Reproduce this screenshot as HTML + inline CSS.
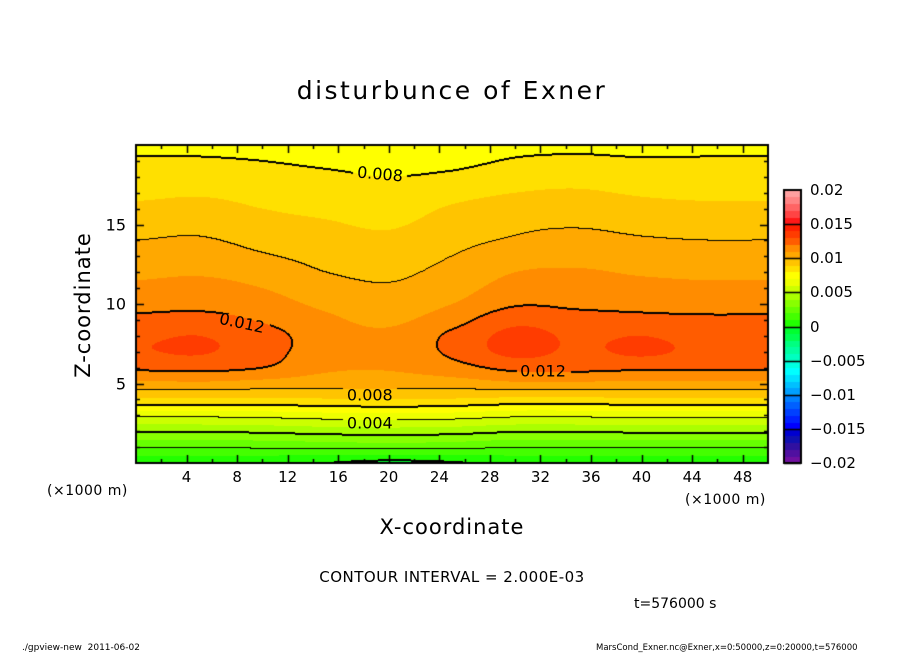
<!DOCTYPE html>
<html><head><meta charset="utf-8"><style>
body{margin:0;background:#fff;}
#wrap{position:relative;width:904px;height:654px;overflow:hidden;background:#fff;font-family:"DejaVu Sans","Liberation Sans",sans-serif;color:#000;}
.t{position:absolute;white-space:nowrap;}
canvas{position:absolute;}
</style></head><body>
<div id="wrap">
<div class="t" style="left:0;width:904px;text-align:center;top:76px;font-size:25px;letter-spacing:2.5px;">disturbunce of Exner</div>
<canvas id="cv" width="904" height="654" style="left:0;top:0"></canvas>
<div class="t" style="left:83px;top:305px;font-size:21px;letter-spacing:1px;transform:translate(-50%,-50%) rotate(-90deg);">Z-coordinate</div>
<div class="t" style="left:0;width:904px;text-align:center;top:515px;font-size:21px;letter-spacing:1px;">X-coordinate</div>
<div class="t" style="left:47px;top:483px;font-size:14px;letter-spacing:0.5px;">(×1000 m)</div>
<div class="t" style="left:685px;top:492px;font-size:14px;letter-spacing:0.5px;">(×1000 m)</div>
<div class="t" style="left:0;width:904px;text-align:center;top:568px;font-size:15px;letter-spacing:0.5px;">CONTOUR INTERVAL = 2.000E-03</div>
<div class="t" style="left:634px;top:596px;font-size:14px;">t=576000 s</div>
<div class="t" style="left:22px;top:643px;font-size:9px;">./gpview-new &nbsp;2011-06-02</div>
<div class="t" style="left:596px;top:643px;font-size:8.5px;">MarsCond_Exner.nc@Exner,x=0:50000,z=0:20000,t=576000</div>
</div>
<script>
const xCoords=[0,5,10,15,20,25,30,35,40,45,50];
const zCoords=[0,1,2,3,4,5,6,7,8,9,10,11,12,13,14,15,16,17,18,19,20];
const row0=[.0004,.0003,.0002,.0000,-.0003,-.0001,.0003,.0004,.0004,.0004,.0004];
const row1=[.0021,.0021,.0022,.0023,.0024,.0023,.0021,.0021,.0021,.0021,.0021];
const row2=[.0041,.0041,.0042,.0044,.0045,.0044,.0041,.0041,.0042,.0042,.0042];
const row3=[.0063,.0063,.0064,.0066,.0067,.0066,.0063,.0063,.0064,.0064,.0064];
const row4=[.0088,.0088,.0088,.0089,.0090,.0089,.0087,.0087,.0088,.0088,.0088];
const row5=[.0107,.0108,.0106,.0104,.0104,.0105,.0108,.0108,.0107,.0107,.0107];
const row6=[.0122,.0123,.0120,.0112,.0111,.0116,.0123,.0123,.0122,.0122,.0122];
const row7=[.0129,.0131,.0124,.0115,.0113,.0122,.0133,.0128,.0132,.0127,.0126];
const row8=[.0128,.0130,.0124,.0115,.0112,.0122,.0133,.0128,.0130,.0126,.0125];
const row9=[.0123,.0124,.0119,.0112,.0108,.0116,.0127,.0124,.0123,.0122,.0122];
const row10=[.0116,.0117,.0114,.0108,.0104,.0110,.0119,.0118,.0117,.0116,.0116];
const row11=[.0112,.0113,.0110,.0104,.0101,.0106,.0114,.0114,.0113,.0112,.0112];
const row12=[.0108,.0109,.0106,.0100,.0098,.0103,.0110,.0111,.0109,.0108,.0108];
const row13=[.0104,.0105,.0101,.0097,.0095,.0100,.0106,.0107,.0105,.0104,.0104];
const row14=[.0100,.0101,.0097,.0094,.0092,.0097,.0101,.0103,.0101,.0100,.0100];
const row15=[.0096,.0097,.0093,.0091,.0089,.0094,.0098,.0099,.0097,.0096,.0096];
const row16=[.0092,.0093,.0090,.0088,.0086,.0091,.0094,.0095,.0093,.0092,.0092];
const row17=[.0088,.0089,.0087,.0085,.0083,.0087,.0090,.0091,.0089,.0088,.0088];
const row18=[.0085,.0085,.0084,.0082,.0080,.0082,.0086,.0087,.0085,.0085,.0085];
const row19=[.0081,.0081,.0080,.0078,.0076,.0077,.0081,.0082,.0081,.0081,.0081];
const row20=[.0078,.0078,.0077,.0075,.0072,.0073,.0077,.0078,.0077,.0078,.0078];
const field=[row0,row1,row2,row3,row4,row5,row6,row7,row8,row9,row10,row11,row12,row13,row14,row15,row16,row17,row18,row19,row20];
const xTicks=[4,8,12,16,20,24,28,32,36,40,44,48];
const zTicks=[5,10,15];
const cbTicks=[0.02,0.015,0.01,0.005,0,-0.005,-0.01,-0.015,-0.02];
const cbTickText=["0.02","0.015","0.01","0.005","0","\u22120.005","\u22120.01","\u22120.015","\u22120.02"];
const contourLabels=[["0.008",19.3,18.2,5],["0.012",8.4,8.8,12],["0.012",32.2,5.8,0],["0.008",18.5,4.3,0],["0.004",18.5,2.5,0]];
const palPos=["#22ff00","#44ff00","#66ff00","#88ff00","#aaff00","#ccff00","#eeff00","#ffff00","#ffe000","#ffc400","#ffa800","#ff8c00","#ff5c00","#ff3c00","#ff2000","#ff1818","#ff4444","#ff6464","#ff8484","#ffa0a0"];
const palNeg=["#00ff30","#00ff50","#00ff80","#00ffa0","#00ffc0","#00ffe0","#00ffff","#00e0ff","#00c0ff","#00a0ff","#0080ff","#0060ff","#0040ff","#0020ff","#0000ff","#0000d0","#1010b0","#3010a0","#5010a0","#7010a0"];

const PX0=136,PX1=768,PY0=145,PY1=463;
const sx=x=>PX0+(x-0)/(50-0)*(PX1-PX0);
const sz=z=>PY1-(z-0)/(20-0)*(PY1-PY0);
const CB={x0:784,x1:801,y0:190,y1:463};
const cy=v=>CB.y1-(v+0.02)/0.04*(CB.y1-CB.y0);
function colorOf(v){let b=Math.floor(v/0.001+1e-9);if(b>=0)return palPos[Math.min(b,19)];return palNeg[Math.min(-b-1,19)];}
function cub(p0,p1,p2,p3,t){return p1+0.5*t*(p2-p0+t*(2*p0-5*p1+4*p2-p3+t*(3*(p1-p2)+p3-p0)));}
function gv(i,j){i=Math.max(0,Math.min(zCoords.length-1,i));j=Math.max(0,Math.min(xCoords.length-1,j));return field[i][j];}
function sample(x,z){
  let fx=(x-xCoords[0])/(xCoords[1]-xCoords[0]),fz=(z-zCoords[0])/(zCoords[1]-zCoords[0]);
  let j=Math.min(Math.floor(fx),xCoords.length-2),i=Math.min(Math.floor(fz),zCoords.length-2);
  let tx=fx-j,tz=fz-i,r=[];
  for(let k=-1;k<3;k++)r.push(cub(gv(i+k,j-1),gv(i+k,j),gv(i+k,j+1),gv(i+k,j+2),tx));
  return cub(r[0],r[1],r[2],r[3],tz);
}
function hex(c){return [parseInt(c.slice(1,3),16),parseInt(c.slice(3,5),16),parseInt(c.slice(5,7),16)];}
const cv=document.getElementById('cv'),ctx=cv.getContext('2d');
const W=PX1-PX0,H=PY1-PY0;
const img=ctx.createImageData(W,H);
const vals=new Float32Array(W*H);
for(let py=0;py<H;py++)for(let px=0;px<W;px++){
  const x=(px+0.5)/W*50,z=(H-py-0.5)/H*20;vals[py*W+px]=sample(x,z);}
const boxes=contourLabels.map(l=>[sx(l[1])-PX0-27,sz(l[2])-PY0-10,54,20]);
function inBox(px,py){return boxes.some(b=>px>b[0]&&px<b[0]+b[2]&&py>b[1]&&py<b[1]+b[3]);}
for(let py=0;py<H;py++)for(let px=0;px<W;px++){
  const v=vals[py*W+px];let c=hex(colorOf(v));
  const lv=Math.floor(v/0.002);let line=false;
  const nb=[[1,0],[0,1],[-1,0],[0,-1]];
  for(const [dx,dy] of nb){const qx=px+dx,qy=py+dy;if(qx<0||qy<0||qx>=W||qy>=H)continue;
    const v2=vals[qy*W+qx];const l2=Math.floor(v2/0.002);
    if(l2!==lv){const m=Math.max(lv,l2);if(dx>0||dy>0||m%2===0){line=true;}}}
  if(line&&!inBox(px,py))c=[0,0,0];
  const k=(py*W+px)*4;img.data[k]=c[0];img.data[k+1]=c[1];img.data[k+2]=c[2];img.data[k+3]=255;}
ctx.putImageData(img,PX0,PY0);
ctx.strokeStyle='#000';ctx.lineWidth=2;ctx.strokeRect(PX0,PY0,W,H);
ctx.lineWidth=1.5;
for(let x=2;x<50;x+=2){const L=(x%4===0)?8:4;const X=Math.round(sx(x))+0.5;
  ctx.beginPath();ctx.moveTo(X,PY1);ctx.lineTo(X,PY1-L);ctx.moveTo(X,PY0);ctx.lineTo(X,PY0+L);ctx.stroke();}
for(let z=1;z<20;z++){const L=(z%5===0)?8:4;const Y=Math.round(sz(z))+0.5;
  ctx.beginPath();ctx.moveTo(PX0,Y);ctx.lineTo(PX0+L,Y);ctx.moveTo(PX1,Y);ctx.lineTo(PX1-L,Y);ctx.stroke();}
for(let b=-20;b<20;b++){const v0=b*0.001;ctx.fillStyle=colorOf(v0+0.0005);
  const ya=cy(v0+0.001),yb=cy(v0);ctx.fillRect(CB.x0,Math.floor(ya),CB.x1-CB.x0,Math.ceil(yb)-Math.floor(ya));}
ctx.lineWidth=2;ctx.strokeRect(CB.x0,CB.y0,CB.x1-CB.x0,CB.y1-CB.y0);
ctx.lineWidth=1.5;
for(let k=-4;k<4;k++){const Y=Math.round(cy(k*0.005))+0.5;ctx.beginPath();ctx.moveTo(CB.x0,Y);ctx.lineTo(CB.x1,Y);ctx.stroke();}
const wrap=document.getElementById('wrap');
function addText(txt,x,y,fs,align,name){const d=document.createElement('div');d.className='t';d.textContent=txt;
  
  
  d.style.fontSize=fs+'px';d.style.left=x+'px';d.style.top=y+'px';
  d.style.transform=align==='c'?'translate(-50%,-50%)':align==='r'?'translate(-100%,-50%)':'translate(0,-50%)';
  wrap.appendChild(d);return d;}
xTicks.forEach(x=>{addText(String(x),sx(x),477,15,'c','x-tick-label');});
zTicks.forEach(z=>{addText(String(z),126,sz(z),16,'r','y-tick-label');});
cbTicks.forEach((v,i)=>{addText(cbTickText[i],810,cy(v),15,'l','colorbar-tick-label');});
contourLabels.forEach(l=>{const d=addText(l[0],sx(l[1]),sz(l[2]),16,'c','contour-label');
  d.style.transform='translate(-50%,-50%) rotate('+l[3]+'deg)';});
</script>
</body></html>
